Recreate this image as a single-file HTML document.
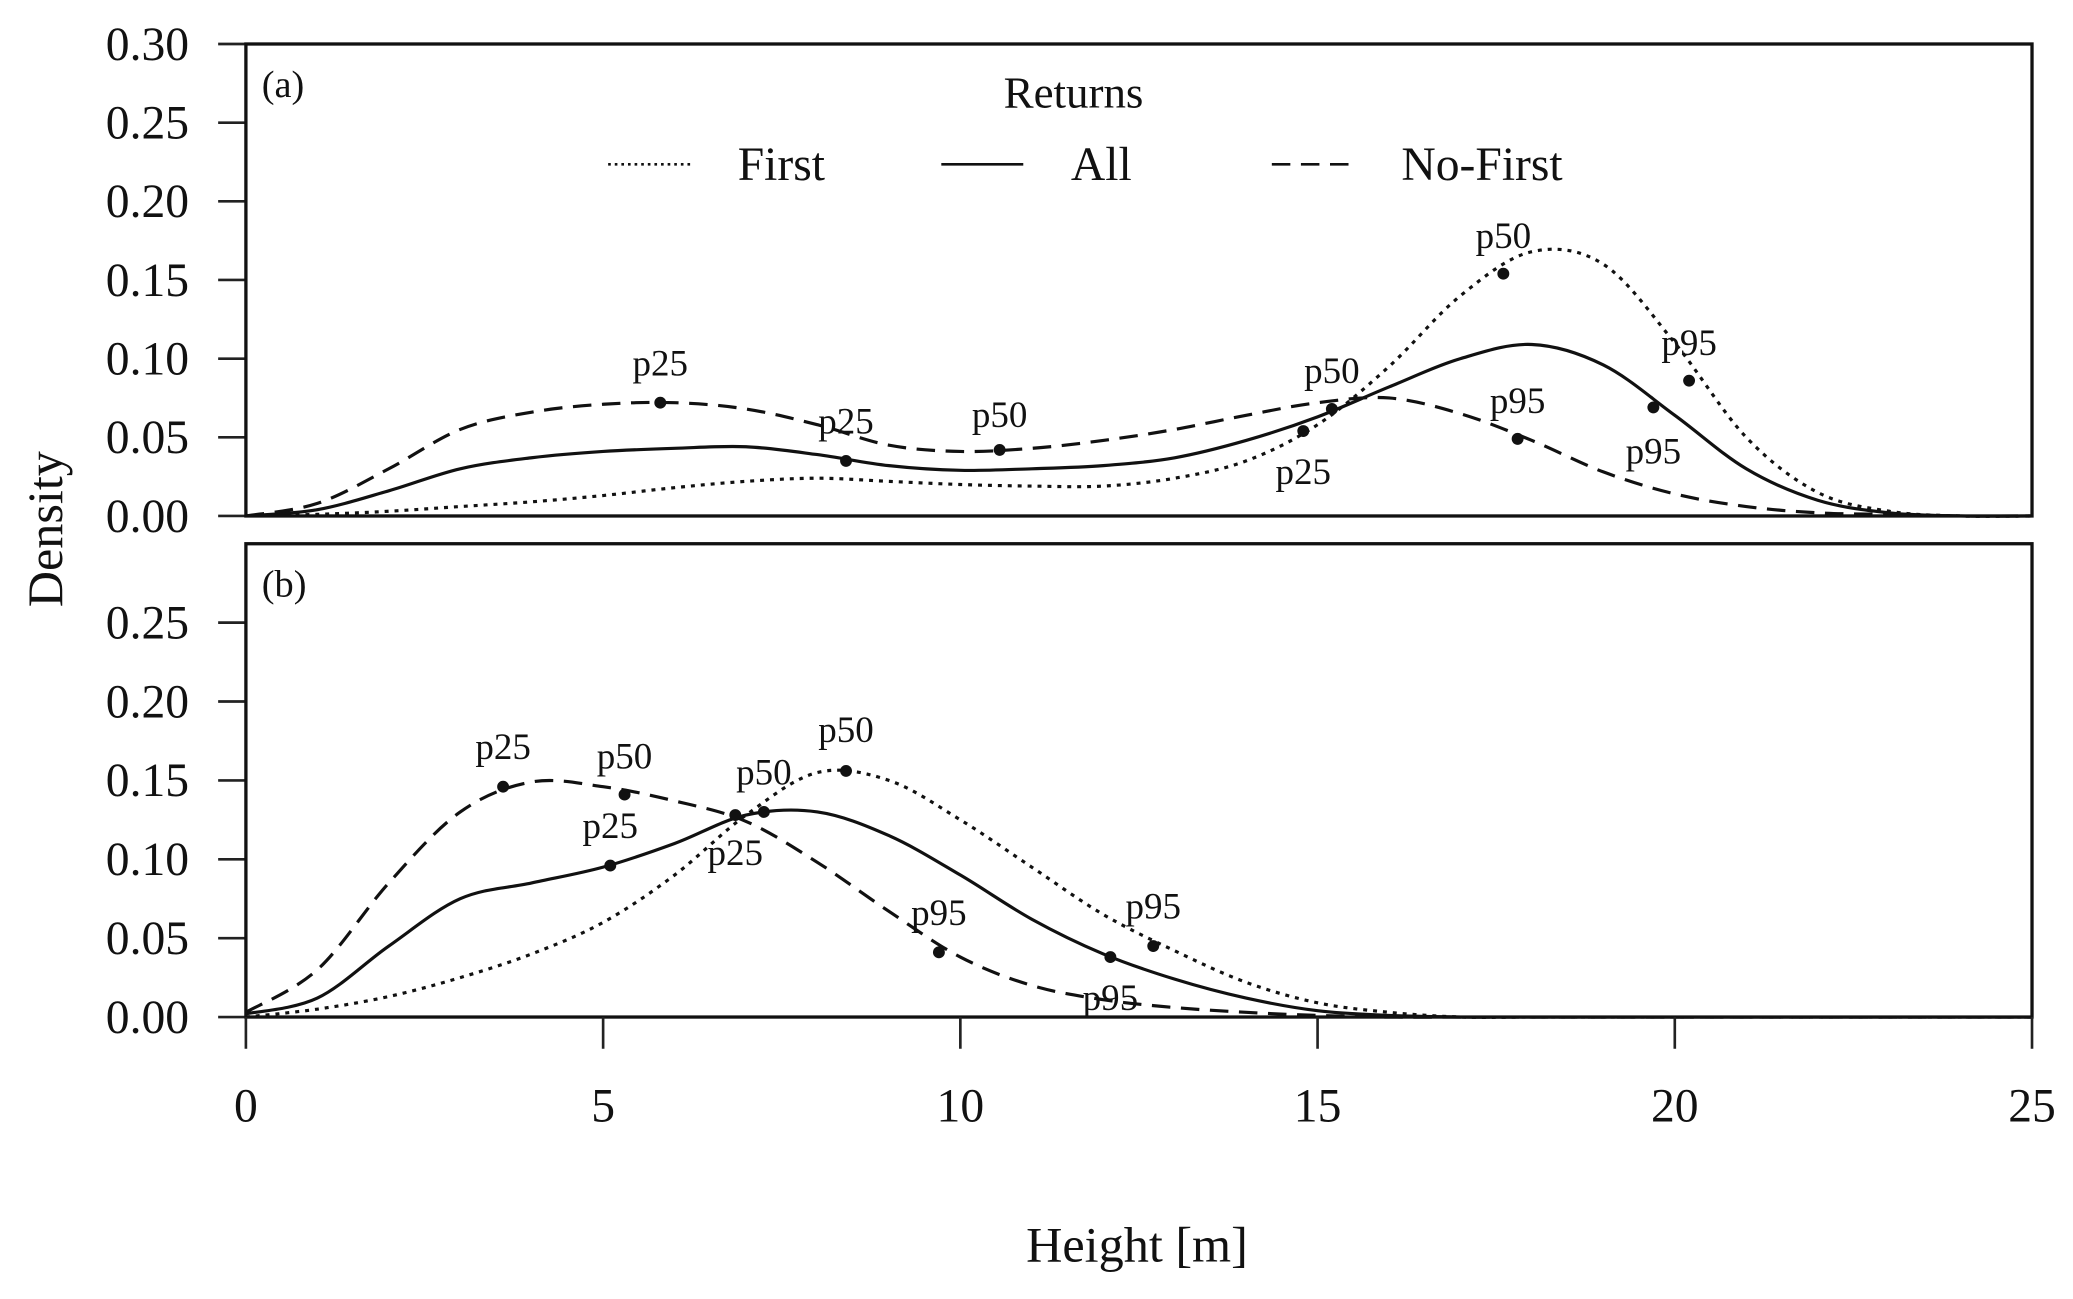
<!DOCTYPE html>
<html><head><meta charset="utf-8"><style>
html,body{margin:0;padding:0;background:#fff}
svg{display:block}
text{font-family:"Liberation Serif",serif;fill:#111}
</style></head><body>
<svg id="chart" width="2073" height="1299" viewBox="0 0 1568 982" xmlns="http://www.w3.org/2000/svg"></svg>
<script>
const xTicks=[0,5,10,15,20,25];
const yTicksA=["0.00","0.05","0.10","0.15","0.20","0.25","0.30"];
const yTicksB=["0.00","0.05","0.10","0.15","0.20","0.25"];
const heights=[0,1,2,3,4,5,6,7,8,9,10,11,12,13,14,15,16,17,18,19,20,21,22,23,24,25];
const aNoFirst=[0,0.008,0.03,0.055,0.066,0.071,0.072,0.068,0.058,0.045,0.041,0.043,0.048,0.055,0.064,0.072,0.075,0.065,0.048,0.028,0.014,0.006,0.002,0.001,0,0];
const aAll=[0,0.004,0.016,0.03,0.037,0.041,0.043,0.044,0.039,0.032,0.029,0.03,0.032,0.037,0.048,0.063,0.082,0.1,0.109,0.096,0.064,0.03,0.01,0.002,0,0];
const aFirst=[0,0.001,0.003,0.006,0.009,0.013,0.018,0.022,0.024,0.022,0.02,0.019,0.019,0.024,0.035,0.058,0.095,0.14,0.168,0.16,0.11,0.05,0.015,0.003,0,0];
const bNoFirst=[0.003,0.03,0.085,0.13,0.149,0.146,0.137,0.124,0.098,0.067,0.038,0.02,0.011,0.006,0.003,0.001,0,0,0,0,0,0,0,0,0,0];
const bAll=[0.002,0.012,0.045,0.075,0.085,0.095,0.11,0.128,0.13,0.115,0.09,0.062,0.04,0.024,0.012,0.004,0.001,0,0,0,0,0,0,0,0,0];
const bFirst=[0,0.005,0.013,0.025,0.04,0.06,0.09,0.128,0.155,0.15,0.125,0.095,0.065,0.042,0.022,0.009,0.003,0,0,0,0,0,0,0,0,0];
// markers: [x, y, label, labelY]
const aMarks=[[5.8,0.072,"p25",0.097],[10.55,0.042,"p50",0.064],[17.8,0.049,"p95",0.073],[8.4,0.035,"p25",0.060],[15.2,0.068,"p50",0.092],[19.7,0.069,"p95",0.041],[14.8,0.054,"p25",0.028],[17.6,0.154,"p50",0.178],[20.2,0.086,"p95",0.110]];
const bMarks=[[3.6,0.146,"p25",0.171],[5.3,0.141,"p50",0.165],[5.1,0.096,"p25",0.121],[7.25,0.130,"p50",0.155],[6.85,0.128,"p25",0.104],[8.4,0.156,"p50",0.182],[9.7,0.041,"p95",0.066],[12.1,0.038,"p95",0.012],[12.7,0.045,"p95",0.070]];

const svg=document.getElementById('chart');
const NS="http://www.w3.org/2000/svg";
function mk(tag,attrs,parent){const e=document.createElementNS(NS,tag);for(const k in attrs)e.setAttribute(k,attrs[k]);(parent||svg).appendChild(e);return e;}
const X0=186,X1=1537;
const xs=v=>X0+(X1-X0)*v/25;
const panels=[{top:33,bot:390,tag:"(a)",name:"panel-a",ticks:yTicksA,series:[aFirst,aAll,aNoFirst],marks:aMarks},
              {top:411,bot:769,tag:"(b)",name:"panel-b",ticks:yTicksB,series:[bFirst,bAll,bNoFirst],marks:bMarks}];
const styles=[{d:"3 4.5",n:"first"},{d:"none",n:"all"},{d:"14 8",n:"no-first"}];
function path(xv,yv,ys){
  const p=xv.map((x,i)=>[xs(x),ys(yv[i])]);
  let d="M"+p[0][0]+","+p[0][1];
  for(let i=0;i<p.length-1;i++){
    const p0=p[Math.max(0,i-1)],p1=p[i],p2=p[i+1],p3=p[Math.min(p.length-1,i+2)];
    const c1=[p1[0]+(p2[0]-p0[0])/6,p1[1]+(p2[1]-p0[1])/6];
    const c2=[p2[0]-(p3[0]-p1[0])/6,p2[1]-(p3[1]-p1[1])/6];
    d+=` C${c1[0]},${c1[1]} ${c2[0]},${c2[1]} ${p2[0]},${p2[1]}`;
  }
  return d;
}
panels.forEach(P=>{
  const g=mk('g',{});
  
  
  const ys=v=>P.bot-(P.bot-P.top)*v/0.30;
  P.ticks.forEach(t=>{
    const y=ys(parseFloat(t));
    const l=mk('line',{x1:165,x2:X0,y1:y,y2:y,stroke:'#222','stroke-width':2},g);
    
    
    const tx=mk('text',{x:143,y:y+12,'text-anchor':'end','font-size':36},g);
    tx.textContent=t;
    
    
  });
  P.series.forEach((s,i)=>{
    const pa=mk('path',{d:path(heights,s,ys),fill:'none',stroke:'#111','stroke-width':2.4,'stroke-dasharray':styles[i].d},g);
    
    
  });
  P.marks.forEach(m=>{
    const c=mk('circle',{cx:xs(m[0]),cy:ys(m[1]),r:4.5,fill:'#111'},g);
    
    
    const t=mk('text',{x:xs(m[0]),y:ys(m[3])+9,'text-anchor':'middle','font-size':28},g);
    t.textContent=m[2];
    
    
  });
  const r=mk('rect',{x:X0,y:P.top,width:X1-X0,height:P.bot-P.top,fill:'none',stroke:'#111','stroke-width':2.5},g);
  
  
  const tg=mk('text',{x:198,y:P.top+40,'font-size':29},g);
  tg.textContent=P.tag;
  
  
});
xTicks.forEach(t=>{
  const x=xs(t);
  const l=mk('line',{x1:x,x2:x,y1:769,y2:793,stroke:'#222','stroke-width':2});
  
  
  const tx=mk('text',{x:x,y:848,'text-anchor':'middle','font-size':36});
  tx.textContent=t;
  
  
});
const xt=mk('text',{x:860,y:954,'text-anchor':'middle','font-size':38});
xt.textContent="Height [m]";


const yt=mk('text',{x:0,y:0,'text-anchor':'middle','font-size':38,transform:'translate(47,400) rotate(-90)'});
yt.textContent="Density";


const lg=mk('g',{});


const lt=mk('text',{x:812,y:81,'text-anchor':'middle','font-size':34},lg);
lt.textContent="Returns";


const legendNames=["First","All","No-First"];
const legX=[460,712,962];
legendNames.forEach((n,i)=>{
  const l=mk('line',{x1:legX[i],x2:legX[i]+62,y1:124,y2:124,stroke:'#111','stroke-width':2,'stroke-dasharray':i==0?'2 3':styles[i].d},lg);
  
  
  const t=mk('text',{x:legX[i]+98,y:136,'font-size':36},lg);
  t.textContent=n;
  
  
});
</script>
</body></html>
